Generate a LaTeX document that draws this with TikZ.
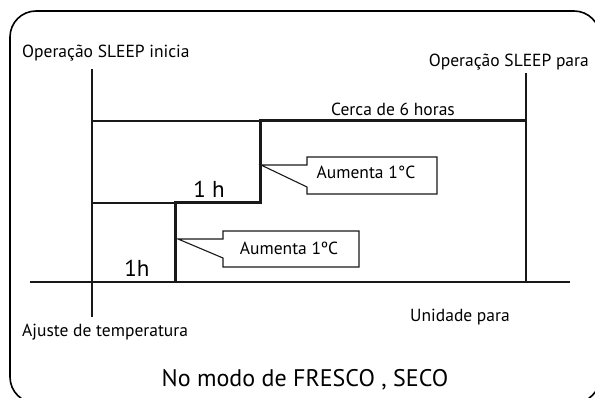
\documentclass[tikz,border=0pt]{standalone}
\usepackage{fontspec}
\setmainfont{PT Sans}
\begin{document}
\begin{tikzpicture}[x=1pt,y=-1pt,
  thin line/.style={line width=1.2pt,draw=black!90},
  thick line/.style={line width=3pt,draw=black!90,line join=miter},
  lbl/.style={inner sep=0pt,font=\fontsize{17.5}{20}\selectfont},
  big/.style={inner sep=0pt,font=\fontsize{23}{26}\selectfont},
  callout/.style={line width=1.1pt,draw=black!90,fill=white}]
\useasboundingbox (0,0) rectangle (595,398);
\begin{scope}
\clip (0,0) rectangle (595,398);
\draw[line width=1.6pt,rounded corners=26pt] (10,11) rectangle (600,403);
\end{scope}
% coordinates
\coordinate (st) at (92,69);
\coordinate (sb) at (92,317);
\coordinate (bl) at (30,282);
\coordinate (br) at (570,282);
\coordinate (et) at (526,73);
\coordinate (eb) at (526,282);
\coordinate (a1) at (92,121);
\coordinate (a2) at (260,121);
\coordinate (a3) at (526,121);
\coordinate (b1) at (92,203);
\coordinate (b2) at (175,203);
\coordinate (c1) at (260,203);
\coordinate (d1) at (175,282);
% lines
\draw[thin line] (st) -- (sb);
\draw[thin line] (bl) -- (br);
\draw[thin line] (et) -- (eb);
\draw[thin line] (a1) -- (a2);
\draw[thin line] (b1) -- (b2);
\draw[thick line] (d1) -- (b2) -- (c1) -- (a2) -- (a3);
% callouts
\draw[callout] (261,165) -- (307,165) -- (307,157) -- (437,157) -- (437,194) -- (307,194) -- (307,187) -- cycle;
\draw[callout] (178,239) -- (223,239) -- (223,231) -- (359,231) -- (359,267) -- (223,267) -- (223,258) -- cycle;
\node[lbl] (co1) at (366,172) {Aumenta 1°C};
\node[lbl] (co2) at (289,248) {Aumenta 1ºC};
% labels
\node[lbl,anchor=west] (sl) at (22,53) {Operação SLEEP inicia};
\node[lbl,anchor=east] (el) at (589,62) {Operação SLEEP para};
\node[lbl] (six) at (393,109) {Cerca de 6 horas};
\node[big] (h1) at (209,189) {1 h};
\node[big] (h2) at (137,268) {1h};
\node[lbl,anchor=west] (aj) at (22,332) {Ajuste de temperatura};
\node[lbl] (up) at (460,317) {Unidade para};
\node[big,font=\fontsize{24}{27}\selectfont] (md) at (305,380) {No modo de FRESCO , SECO};
\end{tikzpicture}
\end{document}
